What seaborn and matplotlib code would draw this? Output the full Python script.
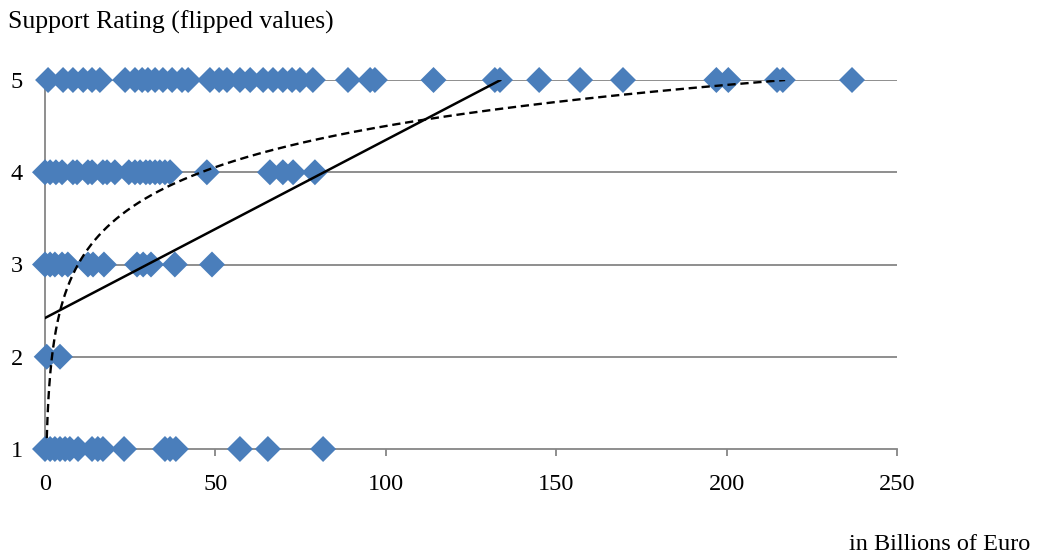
import numpy as np
import pandas as pd
import matplotlib
matplotlib.use("Agg")
import matplotlib.pyplot as plt
import seaborn as sns

# valores (miles de millones de euros, por nivel de apoyo)
x_rating5 = [0.9, 5.3, 8.2, 11.2, 13.8, 16.1, 23.5, 26.4, 28.5, 30.2, 32.3, 34.6,
             37.3, 40.2, 42.0, 48.4, 51.1, 53.4, 57.2, 60.2, 64.0, 66.9, 69.8,
             72.5, 74.8, 78.6, 88.9, 95.4, 96.8, 114.0, 132.0, 133.5, 145.0,
             157.0, 169.6, 197.0, 200.5, 214.8, 216.5, 236.8]
x_rating4 = [0.0, 1.5, 3.2, 5.0, 8.2, 9.4, 12.6, 13.8, 17.0, 18.2, 20.5, 24.6,
             26.4, 27.9, 29.6, 30.8, 32.3, 33.7, 35.2, 36.7, 47.5, 66.0, 69.8,
             72.8, 79.2]
x_rating3 = [0.0, 1.5, 2.9, 5.0, 6.7, 12.6, 14.1, 17.3, 27.0, 28.8, 31.1, 38.1, 49.0]
x_rating2 = [0.5, 4.4]
x_rating1 = [0.0, 1.5, 2.9, 4.4, 5.9, 7.3, 9.7, 13.8, 15.5, 17.0, 23.2, 35.2,
             36.7, 38.4, 57.2, 65.4, 81.6]

# lineas de tendencia (coeficientes)
lin_intercept, lin_slope = 2.42, 0.0193
log_a, log_b = 1.54, 0.643

x_ticks = [0, 50, 100, 150, 200, 250]
y_ticks = [1, 2, 3, 4, 5]

grupos = [x_rating1, x_rating2, x_rating3, x_rating4, x_rating5]
df = pd.DataFrame({
    "euros": [v for g in grupos for v in g],
    "rating": [i + 1 for i, g in enumerate(grupos) for _ in g],
})

plt.rcParams["font.family"] = ["Liberation Serif", "DejaVu Serif"]
gris = "#868686"

fig = plt.figure(figsize=(10.44, 5.58), dpi=100)
ax = fig.add_axes([45 / 1044, 1 - 449 / 558, 852 / 1044, 369 / 558])

for y in y_ticks[1:]:
    ax.axhline(y, color=gris, lw=1.3, zorder=0)

sns.scatterplot(data=df, x="euros", y="rating", marker="D", s=175,
                color="#4A7EBB", edgecolor="none", ax=ax, zorder=3, clip_on=False)

# tendencia lineal
xl = np.linspace(0, df["euros"].max(), 400)
yl = lin_intercept + lin_slope * xl
m = yl <= 5
ax.plot(xl[m], yl[m], color="black", lw=1.8, zorder=4)

# tendencia logaritmica
xg = np.linspace(0.4, df["euros"].max(), 2000)
yg = log_a + log_b * np.log(xg)
m = (yg >= 1) & (yg <= 5)
ax.plot(xg[m], yg[m], color="black", lw=1.7, ls=(0, (3.5, 2)), zorder=4)

ax.set_xlim(0, 250)
ax.set_ylim(1, 5)
ax.set_xticks(x_ticks)
ax.set_yticks(y_ticks)
ax.tick_params(axis="x", direction="out", length=5, color=gris, width=1.3,
               labelsize=17.5, pad=13)
ax.tick_params(axis="y", length=0, labelsize=17.5, pad=16)
for s in ["top", "right"]:
    ax.spines[s].set_visible(False)
for s in ["left", "bottom"]:
    ax.spines[s].set_color(gris)
    ax.spines[s].set_linewidth(1.3)
ax.set_xlabel("")
ax.set_ylabel("")
ax.set_facecolor("white")

fig.text(8 / 1044, 1 - 22 / 558, "Support Rating (flipped values)", fontsize=18.5,
         va="center", ha="left")
fig.text(1030 / 1044, 1 - 545 / 558, "in Billions of Euro", fontsize=17.5,
         va="center", ha="right")

fig.savefig("out.png", dpi=100, facecolor="white")
